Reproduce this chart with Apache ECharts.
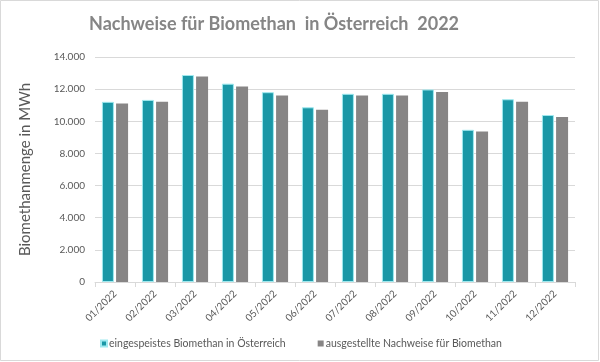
<!DOCTYPE html>
<html>
<head>
<meta charset="utf-8">
<script src="https://cdn.jsdelivr.net/npm/echarts@6/dist/echarts.min.js"></script>
<style>html,body{margin:0;padding:0;background:#fff}#c{width:600px;height:362px}</style>
</head>
<body>
<div id="c"></div>
<script>
const categories = ['01/2022','02/2022','03/2022','04/2022','05/2022','06/2022','07/2022','08/2022','09/2022','10/2022','11/2022','12/2022'];
const eingespeist = [11210, 11330, 12880, 12340, 11810, 10870, 11710, 11710, 11980, 9470, 11370, 10390];
const nachweise = [11100, 11210, 12780, 12170, 11600, 10720, 11600, 11600, 11830, 9360, 11210, 10260];
const yTicks = [0, 2000, 4000, 6000, 8000, 10000, 12000, 14000];

const chart = echarts.init(document.getElementById('c'), null, {renderer: 'canvas'});
const font = 'Lato, "Open Sans", sans-serif';
chart.setOption({
  animation: false,
  backgroundColor: '#fff',
  title: {
    text: 'Nachweise für Biomethan  in Österreich  2022',
    left: 269, top: 10, textAlign: 'center',
    textStyle: {fontFamily: font, fontWeight: 'bold', fontSize: 18, color: '#858585'}
  },
  graphic: [{type: 'rect', shape: {x: 0.5, y: 0.5, width: 598, height: 360}, style: {fill: null, stroke: '#d9d9d9', lineWidth: 1}, silent: true}],
  legend: {
    bottom: 8, left: 95, itemGap: 32,
    itemWidth: 6, itemHeight: 6, icon: 'rect',
    textStyle: {fontFamily: font, fontSize: 10.5, color: '#595959', padding: [0,0,0,-3]},
    data: ['eingespeistes Biomethan in Österreich', 'ausgestellte Nachweise für Biomethan']
  },
  grid: {left: 95, right: 25, top: 57, bottom: 80},
  xAxis: {
    type: 'category', data: categories,
    axisLine: {lineStyle: {color: '#d9d9d9'}},
    axisTick: {show: true, lineStyle: {color: '#d9d9d9'}},
    axisLabel: {rotate: 45, fontFamily: font, fontSize: 10, color: '#595959', margin: 10}
  },
  yAxis: {
    type: 'value', min: yTicks[0], max: yTicks[yTicks.length-1], interval: 2000,
    name: 'Biomethanmenge in MWh', nameLocation: 'middle', nameGap: 62, nameRotate: 90,
    nameTextStyle: {fontFamily: font, fontSize: 15, color: '#595959'},
    axisLine: {show: false}, axisTick: {show: false},
    splitLine: {lineStyle: {color: '#d9d9d9'}},
    axisLabel: {fontFamily: font, fontSize: 10, color: '#595959', margin: 10,
      formatter: v => v.toLocaleString('de-DE')}
  },
  series: [
    {name: 'eingespeistes Biomethan in Österreich', type: 'bar', data: eingespeist, barWidth: 12, barGap: '18%',
     itemStyle: {color: '#1a97a6', borderColor: '#9fe9ef', borderWidth: 1}},
    {name: 'ausgestellte Nachweise für Biomethan', type: 'bar', data: nachweise, barWidth: 12,
     itemStyle: {color: '#878585'}}
  ]
});
</script>
</body>
</html>
